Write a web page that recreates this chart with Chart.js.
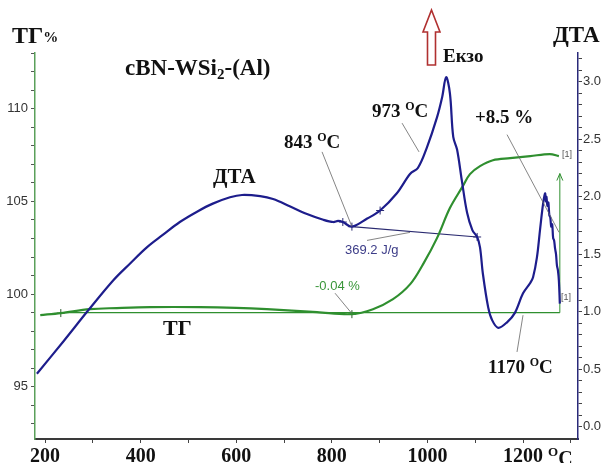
<!DOCTYPE html>
<html><head><meta charset="utf-8">
<script src="https://cdn.jsdelivr.net/npm/chart.js@4.4.0/dist/chart.umd.min.js"></script>
<style>html,body{margin:0;padding:0;background:#fff;}#wrap{position:relative;width:611px;height:463px;}</style>
</head><body><div id="wrap"><canvas id="c" width="611" height="463"></canvas></div>
<script>
// ---- data (temperature °C) ----
const dtaTemp   = [183, 240, 290, 342, 378, 413, 447, 482, 518, 551, 587, 612, 650, 677, 713, 748, 782, 803, 813, 823, 842, 874, 901, 936, 964, 980, 999, 1020, 1031, 1039, 1047, 1054, 1062, 1072, 1083, 1094, 1104, 1110, 1116, 1127, 1135, 1148, 1167, 1183, 1200, 1215, 1221, 1229, 1236, 1242, 1246, 1248, 1249, 1251, 1253, 1255, 1257, 1259, 1261, 1263, 1265, 1267, 1269, 1271, 1273, 1275, 1277];
const dtaValues = [0.46, 0.75, 1.01, 1.27, 1.42, 1.56, 1.67, 1.78, 1.87, 1.94, 1.995, 2.015, 2.005, 1.98, 1.915, 1.85, 1.80, 1.78, 1.79, 1.78, 1.74, 1.81, 1.88, 2.03, 2.20, 2.25, 2.43, 2.69, 2.87, 3.04, 2.90, 2.52, 2.41, 2.14, 1.86, 1.71, 1.65, 1.56, 1.33, 1.04, 0.93, 0.86, 0.91, 0.99, 1.16, 1.25, 1.30, 1.47, 1.73, 1.94, 2.03, 1.96, 2.00, 1.92, 1.95, 1.84, 1.82, 1.74, 1.76, 1.64, 1.62, 1.55, 1.50, 1.40, 1.36, 1.27, 1.07];
const tgTemp    = [190, 233, 294, 350, 420, 524, 600, 664, 769, 842, 886, 928, 964, 991, 1020, 1047, 1074, 1089, 1110, 1137, 1173, 1215, 1256, 1275];
const tgValues  = [98.87, 98.98, 99.19, 99.25, 99.30, 99.30, 99.26, 99.19, 99.03, 98.92, 99.19, 99.73, 100.54, 101.62, 103.02, 104.64, 105.82, 106.47, 106.90, 107.22, 107.33, 107.44, 107.55, 107.44];
const dtaMarkerTemp   = [823, 842, 901, 1104];
const dtaMarkerValues = [1.78, 1.74, 1.88, 1.65];
const tgMarkerTemp    = [233, 842];
const tgMarkerValues  = [98.98, 98.92];
const tgBaselineTemp  = [233, 1277];
const tgBaselineValue = [99.0, 99.0];
const intBaselineTemp = [842, 1104];
const intBaselineValue= [1.74, 1.65];
const tgStepTemp      = [1277, 1277];
const tgStepValue     = [99.0, 106.5];
const xTickLabels   = [200, 400, 600, 800, 1000, 1200];
const tgTickLabels  = [95, 100, 105, 110];
const dtaTickLabels = [0.0, 0.5, 1.0, 1.5, 2.0, 2.5, 3.0];

const NAVY = '#1d1d8c', GREEN = '#2f8f2f';
const SERIF = "'Liberation Serif','DejaVu Serif',serif";
const NARROW = "'Liberation Sans Narrow','Liberation Sans',Arial,sans-serif";
const pts = (xs, ys) => xs.map((x, i) => ({x, y: ys[i]}));
const near = (arr, v) => arr.some(a => Math.abs(a - v) < 1e-6);

// leader lines in data coordinates
const leaders = [
  {ax:'y2', a:[779.5, 2.39], b:[842, 1.74]},
  {ax:'y2', a:[946.9, 2.64], b:[982.4, 2.39]},
  {ax:'y2', a:[1166.5, 2.54], b:[1275.3, 1.69]},
  {ax:'y2', a:[873.6, 1.62], b:[963.6, 1.69]},
  {ax:'y',  a:[806.7, 100.05], b:[842, 98.95]},
  {ax:'y2', a:[1200, 0.97], b:[1187.4, 0.65]}
];

function drawRich(ctx, x, y, segs, color){
  ctx.fillStyle = color; ctx.textBaseline = 'alphabetic'; ctx.textAlign = 'left';
  for (const s of segs){
    ctx.font = (s.w || 'bold') + ' ' + s.size + 'px ' + (s.f || SERIF);
    ctx.fillText(s.t, x, y + (s.dy || 0));
    x += ctx.measureText(s.t).width;
  }
}

const deco = {
  id: 'deco',
  afterDraw(chart){
    const ctx = chart.ctx, X = chart.scales.x;
    ctx.save();
    ctx.strokeStyle = '#666'; ctx.lineWidth = 0.8;
    for (const l of leaders){
      const Y = chart.scales[l.ax];
      ctx.beginPath();
      ctx.moveTo(X.getPixelForValue(l.a[0]), Y.getPixelForValue(l.a[1]));
      ctx.lineTo(X.getPixelForValue(l.b[0]), Y.getPixelForValue(l.b[1]));
      ctx.stroke();
    }
    const ax = X.getPixelForValue(tgStepTemp[1]), ay = chart.scales.y.getPixelForValue(tgStepValue[1]);
    ctx.strokeStyle = GREEN; ctx.lineWidth = 1;
    ctx.beginPath(); ctx.moveTo(ax - 3, ay + 7); ctx.lineTo(ax, ay); ctx.lineTo(ax + 3, ay + 7); ctx.stroke();
    ctx.strokeStyle = '#b03030'; ctx.lineWidth = 1.6; ctx.fillStyle = '#fff';
    ctx.beginPath();
    ctx.moveTo(431.5, 10); ctx.lineTo(440, 32); ctx.lineTo(435.5, 32); ctx.lineTo(435.5, 65);
    ctx.lineTo(427.5, 65); ctx.lineTo(427.5, 32); ctx.lineTo(423, 32); ctx.closePath();
    ctx.fill(); ctx.stroke();
    drawRich(ctx, 12, 43, [{t:'ТГ', size:24}, {t:'%', size:15, dy:-1}], '#111');
    drawRich(ctx, 553, 42, [{t:'ДТА', size:23}], '#111');
    drawRich(ctx, 125, 75, [{t:'cBN-WSi', size:23}, {t:'2', size:15, dy:4}, {t:'-(Al)', size:23}], '#111');
    drawRich(ctx, 443, 62, [{t:'Екзо', size:19}], '#111');
    drawRich(ctx, 213, 183, [{t:'ДТА', size:21}], '#111');
    drawRich(ctx, 163, 335, [{t:'ТГ', size:22}], '#111');
    drawRich(ctx, 284, 148, [{t:'843 ', size:19}, {t:'O', size:12, dy:-7}, {t:'C', size:19}], '#111');
    drawRich(ctx, 372, 117, [{t:'973 ', size:19}, {t:'O', size:12, dy:-7}, {t:'C', size:19}], '#111');
    drawRich(ctx, 475, 123, [{t:'+8.5 %', size:19}], '#111');
    drawRich(ctx, 488, 373, [{t:'1170 ', size:19}, {t:'O', size:12, dy:-7}, {t:'C', size:19}], '#111');
    drawRich(ctx, 345, 254, [{t:'369.2 J/g', size:13, w:'normal', f:NARROW}], '#3c3c88');
    drawRich(ctx, 315, 290, [{t:'-0.04 %', size:13, w:'normal', f:NARROW}], '#3a963a');
    drawRich(ctx, 562, 157, [{t:'[1]', size:9, w:'normal', f:NARROW}], '#555');
    drawRich(ctx, 561, 300, [{t:'[1]', size:9, w:'normal', f:NARROW}], '#555');
    const x1200 = X.getPixelForValue(1200);
    ctx.font = 'bold 20px ' + SERIF;
    const w = ctx.measureText('1200').width;
    drawRich(ctx, x1200 + w / 2 + 5, 465, [{t:'O', size:13, dy:-9}, {t:'C', size:20}], '#111');
    ctx.restore();
  }
};

new Chart(document.getElementById('c'), {
  type: 'scatter',
  data: { datasets: [
    {data: pts(dtaTemp, dtaValues), yAxisID:'y2', showLine:true, borderColor:NAVY, borderWidth:2.2, pointRadius:0, tension:0.35},
    {data: pts(tgTemp, tgValues), yAxisID:'y', showLine:true, borderColor:GREEN, borderWidth:2.2, pointRadius:0, tension:0.35},
    {data: pts(tgBaselineTemp, tgBaselineValue), yAxisID:'y', showLine:true, borderColor:GREEN, borderWidth:1.2, pointRadius:0},
    {data: pts(intBaselineTemp, intBaselineValue), yAxisID:'y2', showLine:true, borderColor:'#2a2a70', borderWidth:1.1, pointRadius:0},
    {data: pts(tgStepTemp, tgStepValue), yAxisID:'y', showLine:true, borderColor:GREEN, borderWidth:1, pointRadius:0},
    {data: pts(dtaMarkerTemp, dtaMarkerValues), yAxisID:'y2', showLine:false, pointStyle:'cross', pointRadius:4, borderColor:'#2a2a70', borderWidth:1},
    {data: pts(tgMarkerTemp, tgMarkerValues), yAxisID:'y', showLine:false, pointStyle:'cross', pointRadius:4, borderColor:'#2a5a2a', borderWidth:1}
  ]},
  options: {
    responsive:false, animation:false, devicePixelRatio:1,
    layout:{padding:{top:53, left:0, right:0, bottom:0}},
    plugins:{legend:{display:false}, tooltip:{enabled:false}},
    scales:{
      x:{type:'linear', position:'bottom', min:179, max:1315,
        border:{color:'#3a3a3a', width:2},
        grid:{drawOnChartArea:false, tickLength:4, tickColor:'#444'},
        afterBuildTicks:s=>{ s.ticks=[]; for(let v=200; v<=1300; v+=100) s.ticks.push({value:v}); },
        afterFit:s=>{ s.height=24; },
        ticks:{autoSkip:false, maxRotation:0, padding:2, color:'#111', font:{family:SERIF, size:20, weight:'bold'},
          callback:v=> near(xTickLabels, v) ? String(v) : ''}},
      y:{type:'linear', position:'left', min:92.19, max:113.0,
        border:{color:'#5aa05a', width:1.5},
        grid:{drawOnChartArea:false, tickLength:4, tickColor:'#555'},
        afterBuildTicks:s=>{ s.ticks=[]; for(let v=93; v<=113; v++) s.ticks.push({value:v}); },
        afterFit:s=>{ s.width=35; },
        ticks:{autoSkip:false, padding:3, color:'#333', font:{family:NARROW, size:13},
          callback:v=> near(tgTickLabels, v) ? String(v) : ''}},
      y2:{type:'linear', position:'right', min:-0.107, max:3.25,
        border:{color:'#2a2a7a', width:1.5},
        grid:{drawOnChartArea:false, tickLength:4, tickColor:'#444'},
        afterBuildTicks:s=>{ s.ticks=[]; for(let i=0; i<=32; i++) s.ticks.push({value:i/10}); },
        afterFit:s=>{ s.width=33; },
        ticks:{autoSkip:false, padding:1, color:'#333', font:{family:NARROW, size:13},
          callback:v=> near(dtaTickLabels, v) ? v.toFixed(1) : ''}}
    }
  },
  plugins:[deco]
});
</script></body></html>
